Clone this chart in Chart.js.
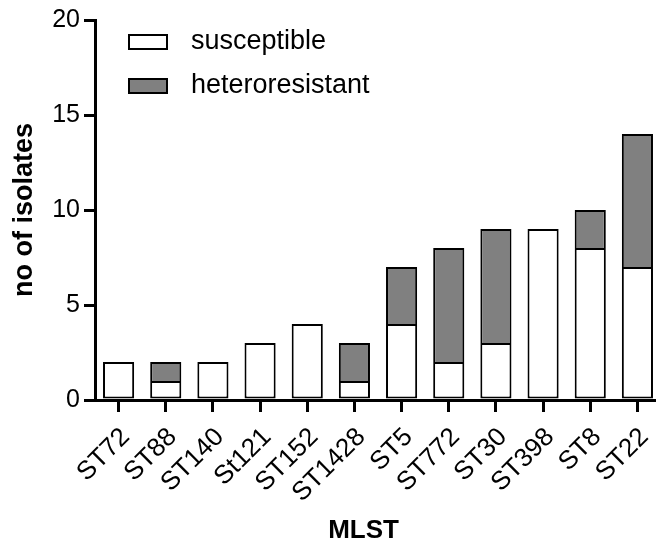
<!DOCTYPE html>
<html>
<head>
<meta charset="utf-8">
<script src="https://cdn.jsdelivr.net/npm/chart.js@4"></script>
<style>
  html, body { margin: 0; padding: 0; background: #fff; overflow: hidden; }
  #mlstChart { display: block; }
</style>
</head>
<body>
<canvas id="mlstChart" width="662" height="548"></canvas>
<script>
const MLST_TYPES = ['ST72', 'ST88', 'ST140', 'St121', 'ST152', 'ST1428', 'ST5', 'ST772', 'ST30', 'ST398', 'ST8', 'ST22'];
const SUSCEPTIBLE = [2, 1, 2, 3, 4, 1, 4, 2, 3, 9, 8, 7];
const HETERORESISTANT = [0, 1, 0, 0, 0, 2, 3, 6, 6, 0, 2, 7];
const Y_TICKS = [0, 5, 10, 15, 20];

const FONT = "'Liberation Sans', Arial, Helvetica, sans-serif";

// legend drawn inside the plot, top left, stacked vertically
const innerLegend = {
  id: 'innerLegend',
  afterDraw(chart) {
    const ctx = chart.ctx
    const left = chart.chartArea.left + 33
    let top = chart.chartArea.top + 14
    ctx.save()
    ctx.font = '27px ' + FONT
    ctx.textBaseline = 'middle'
    chart.data.datasets.forEach(ds => {
      ctx.fillStyle = ds.backgroundColor
      ctx.fillRect(left, top, 40, 16)
      ctx.lineWidth = 2
      ctx.strokeStyle = '#000'
      ctx.strokeRect(left + 1, top + 1, 38, 14)
      ctx.fillStyle = '#000'
      ctx.fillText(ds.label, left + 63, top + 8)
      top += 44
    })
    ctx.restore()
  }
}

const context = document.getElementById('mlstChart')
const data = {
  labels: MLST_TYPES,
  datasets: [
    {
      label: 'susceptible',
      data: SUSCEPTIBLE,
      backgroundColor: '#ffffff',
      borderColor: '#000000',
      borderWidth: 2,
      borderSkipped: false
    },
    {
      label: 'heteroresistant',
      data: HETERORESISTANT,
      backgroundColor: '#808080',
      borderColor: '#000000',
      borderWidth: 2,
      borderSkipped: 'bottom'
    }
  ]
};

const config = {
  type: 'bar',
  data: data,
  options: {
    responsive: false,
    animation: false,
    devicePixelRatio: 1,
    layout: { padding: { top: 20, right: 1, left: 0, bottom: 0 } },
    datasets: { bar: { categoryPercentage: 1, barPercentage: 0.66 } },
    plugins: {
      legend: { display: false },
      tooltip: { enabled: false }
    },
    scales: {
      x: {
        stacked: true,
        afterFit: scale => {
          scale.height = 148
          scale.paddingLeft = 0
          scale.paddingRight = 0
        },
        border: { display: true, color: '#000', width: 3 },
        grid: { display: true, offset: false, drawOnChartArea: false, drawTicks: true, tickLength: 12, lineWidth: 3, color: '#000' },
        ticks: {
          autoSkip: false, minRotation: 45, maxRotation: 45, padding: 10, labelOffset: 7,
          color: '#000', font: { family: FONT, size: 26 }
        },
        title: {
          display: true, text: 'MLST    ', color: '#000',
          font: { family: FONT, size: 26, weight: 'bold' },
          padding: { top: 0, bottom: 2 }
        }
      },
      y: {
        stacked: true,
        min: 0,
        max: 20,
        afterFit: scale => { scale.width = 95 },
        afterBuildTicks: scale => { scale.ticks = Y_TICKS.map(v => ({ value: v })) },
        border: { display: true, color: '#000', width: 3 },
        grid: { display: true, drawOnChartArea: false, drawTicks: true, tickLength: 11, lineWidth: 3, color: '#000' },
        ticks: { padding: 4, color: '#000', font: { family: FONT, size: 25 } },
        title: {
          display: true, text: 'no of isolates', color: '#000',
          font: { family: FONT, size: 27, weight: 'bold' },
          padding: { top: 8, bottom: 0 }
        }
      }
    }
  },
  plugins: [innerLegend]
};

new Chart(context, config);
</script>
</body>
</html>
